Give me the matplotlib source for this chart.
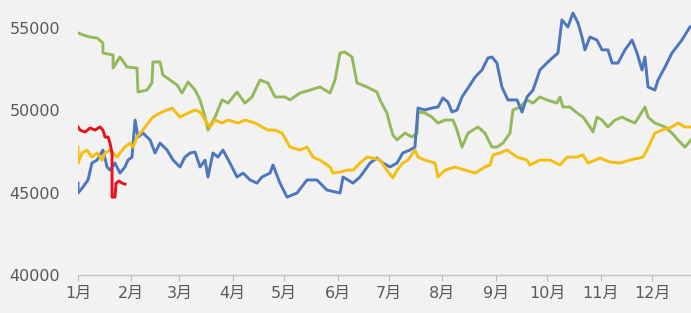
import numpy as np
import matplotlib
matplotlib.use('Agg')
from matplotlib import pyplot as plt

plt.rcParams['font.family'] = ['DejaVu Sans', 'Noto Sans CJK SC']

# day of year / price
green_day = [0, 2.9, 7.0, 11.1, 14.5, 14.5, 20.4, 20.4, 24.4, 28.5, 34.3, 34.9, 40.1, 43.0, 43.6, 47.7,
             49.4, 53.5, 57.6, 60.5, 64.0, 68.1, 71.0, 73.9, 75.6, 79.7, 83.8, 87.3, 92.5, 97.1, 101.2,
             105.9, 110.5, 114.6, 120.4, 123.3, 129.1, 135.0, 140.8, 146.6, 149.5, 152.4, 155.3, 159.4,
             162.3, 168.1, 173.9, 175.7, 179.7, 181.5, 183.2, 185.6, 190.2, 194.3, 197.2, 197.8, 201.8,
             205.9, 209.4, 213.5, 218.1, 220.5, 223.4, 226.9, 232.7, 236.7, 240.8, 243.7, 247.2, 251.3,
             253.0, 257.1, 261.2, 264.7, 268.7, 272.8, 278.6, 280.4, 282.1, 286.2, 290.3, 293.8, 297.8,
             299.6, 301.9, 304.8, 308.3, 312.4, 316.4, 319.9, 324.0, 329.8, 331.6, 335.6, 341.5, 345.5,
             349.0, 353.1, 356.6]
green_val = [54700, 54580, 54450, 54390, 54090, 53480, 53360, 52570, 53240, 52630, 52570, 51110, 51230,
             51660, 52940, 52940, 52150, 51840, 51540, 51050, 51720, 51230, 50630, 49590, 48800, 49590,
             50630, 50440, 51110, 50440, 50810, 51840, 51660, 50810, 50810, 50630, 51050, 51230, 51420,
             51050, 51840, 53480, 53540, 53240, 51660, 51420, 51110, 50630, 49840, 49110, 48500, 48200,
             48620, 48380, 48620, 49900, 49840, 49590, 49230, 49410, 49410, 48800, 47770, 48620, 48990,
             48620, 47770, 47770, 48010, 48620, 50020, 50200, 50630, 50440, 50810, 50630, 50440, 50810,
             50200, 50200, 49840, 49590, 48990, 48680, 49590, 49410, 48990, 49410, 49590, 49410, 49230,
             50200, 49590, 49230, 48990, 48620, 48200, 47770, 48200]

blue_day = [0, 0, 2.9, 5.8, 8.1, 11.1, 14.5, 16.9, 18.6, 21.5, 24.4, 27.3, 29.1, 31.4, 33.2, 34.9, 37.8,
            41.9, 44.8, 47.7, 51.8, 55.3, 59.3, 62.2, 65.2, 68.1, 71.0, 73.9, 75.6, 78.5, 81.4, 84.3,
            88.4, 92.5, 96.0, 100.1, 104.1, 107.0, 111.7, 113.4, 117.5, 121.6, 127.4, 133.2, 139.0,
            144.8, 152.4, 154.2, 160.0, 164.0, 169.9, 173.9, 177.4, 181.5, 185.6, 188.9, 193.1, 196.0,
            197.8, 201.8, 205.9, 209.4, 212.3, 215.2, 217.6, 220.5, 223.4, 226.9, 231.0, 235.0, 238.5,
            240.8, 243.7, 246.6, 250.1, 255.4, 258.3, 261.2, 264.7, 268.7, 274.6, 279.2, 281.5, 285.0,
            287.9, 290.9, 293.2, 294.9, 297.8, 301.9, 304.8, 308.3, 310.7, 314.1, 318.2, 322.3, 325.2,
            328.1, 329.8, 331.6, 335.6, 337.4, 341.5, 345.5, 351.3, 356.0]
blue_val = [45580, 44980, 45340, 45770, 46800, 46980, 47590, 46560, 46370, 46800, 46190, 46560, 46980,
            47160, 49410, 48380, 48620, 48200, 47410, 48010, 47590, 46980, 46560, 47160, 47410, 47470,
            46560, 46980, 45950, 47410, 47160, 47590, 46800, 45950, 46190, 45770, 45580, 45950, 46190,
            46680, 45580, 44730, 44980, 45770, 45770, 45160, 44980, 45950, 45580, 45950, 46800, 47100,
            46800, 46560, 46800, 47410, 47590, 47770, 50140, 50020, 50140, 50200, 50750, 50500, 49900,
            50020, 50810, 51360, 52020, 52450, 53180, 53240, 52870, 51420, 50630, 50630, 49900, 50810,
            51230, 52450, 53060, 53480, 55490, 55060, 55910, 55300, 54450, 53670, 54450, 54270, 53670,
            53670, 52870, 52870, 53670, 54270, 53480, 52450, 53240, 51420, 51230, 51840, 52630, 53480,
            54270, 55060]

yellow_day = [0, 0, 2.3, 5.2, 8.1, 11.1, 14.0, 15.7, 18.6, 20.4, 22.7, 24.4, 27.3, 30.2, 32.0, 34.3,
              37.8, 40.7, 43.6, 47.7, 51.8, 54.7, 59.3, 64.0, 68.1, 71.0, 73.9, 76.8, 79.7, 83.8, 87.3,
              93.1, 97.1, 103.0, 107.0, 110.5, 114.6, 118.7, 123.3, 129.1, 133.2, 136.7, 140.8, 146.6,
              148.3, 152.4, 156.5, 160.0, 164.0, 168.1, 171.6, 175.7, 179.7, 183.2, 185.6, 188.9, 192.0,
              196.0, 197.8, 201.8, 207.7, 209.4, 213.5, 219.3, 225.1, 231.0, 236.7, 239.7, 241.4, 245.5,
              249.6, 255.4, 261.2, 262.9, 268.7, 274.6, 280.4, 284.5, 290.3, 293.8, 296.7, 303.7, 309.5,
              315.3, 321.1, 328.7, 331.0, 335.6, 339.7, 345.5, 349.0, 353.1, 356.6]
yellow_val = [47770, 46800, 47410, 47590, 47160, 47410, 46980, 47410, 47590, 47410, 47160, 47410, 47770,
              48010, 47770, 48380, 48800, 49230, 49590, 49840, 50020, 50140, 49590, 49840, 50020, 49900,
              49410, 48990, 49410, 49230, 49410, 49230, 49410, 49230, 48990, 48800, 48800, 48620, 47770,
              47590, 47770, 47160, 46980, 46560, 46190, 46250, 46370, 46370, 46800, 47160, 47100, 46980,
              46370, 45890, 46370, 46800, 46980, 47590, 47160, 46980, 46800, 45950, 46370, 46560, 46370,
              46190, 46560, 46680, 47290, 47410, 47590, 47160, 46980, 46680, 46980, 46980, 46680, 47160,
              47160, 47290, 46800, 47100, 46860, 46800, 46980, 47160, 47590, 48620, 48800, 48990, 49230,
              48990, 48990]

red_day = [0, 1.2, 4.1, 7.0, 9.9, 12.8, 14.5, 15.7, 17.5, 18.6, 19.8, 19.8, 21.5, 22.1, 23.9, 25.6, 27.3]
red_val = [48990, 48800, 48680, 48930, 48800, 48990, 48800, 48380, 48380, 48010, 47410, 44730, 44730,
           45580, 45710, 45580, 45520]

month_days = [0, 31, 59, 90, 120, 151, 181, 212, 243, 273, 304, 334]
month_labels = ['1月', '2月', '3月', '4月', '5月', '6月', '7月', '8月', '9月', '10月', '11月', '12月']
y_ticks = [40000, 45000, 50000, 55000]

bg = '#f2f2f2'
fig = plt.figure(figsize=(6.91, 3.13), dpi=100, facecolor=bg)
ax = fig.add_axes([0.1129, 0.1214, 0.8871, 0.8786], facecolor=bg)

ax.plot(green_day, green_val, color='#93b95a', lw=2.1)
ax.plot(blue_day, blue_val, color='#4a77be', lw=2.1)
ax.plot(yellow_day, yellow_val, color='#f5be10', lw=2.1)
ax.plot(red_day, red_val, color='#e8141c', lw=2.1)

ax.set_xlim(0, 356.6)
ax.set_ylim(40000, 56700)
ax.set_xticks(month_days)
ax.set_xticklabels(month_labels)
ax.set_yticks(y_ticks)
ax.set_yticklabels([str(v) for v in y_ticks])

for s in ['top', 'right', 'left']:
    ax.spines[s].set_visible(False)
ax.spines['bottom'].set_color('#c4c4c4')
ax.spines['bottom'].set_linewidth(1)

ax.tick_params(axis='x', colors='#bcbcbc', length=4, width=0.8, pad=4, labelsize=11.5, labelcolor='#595959')
ax.tick_params(axis='y', length=0, pad=13, labelsize=11.5, labelcolor='#595959')

plt.savefig('out.png', dpi=100, facecolor=bg)
